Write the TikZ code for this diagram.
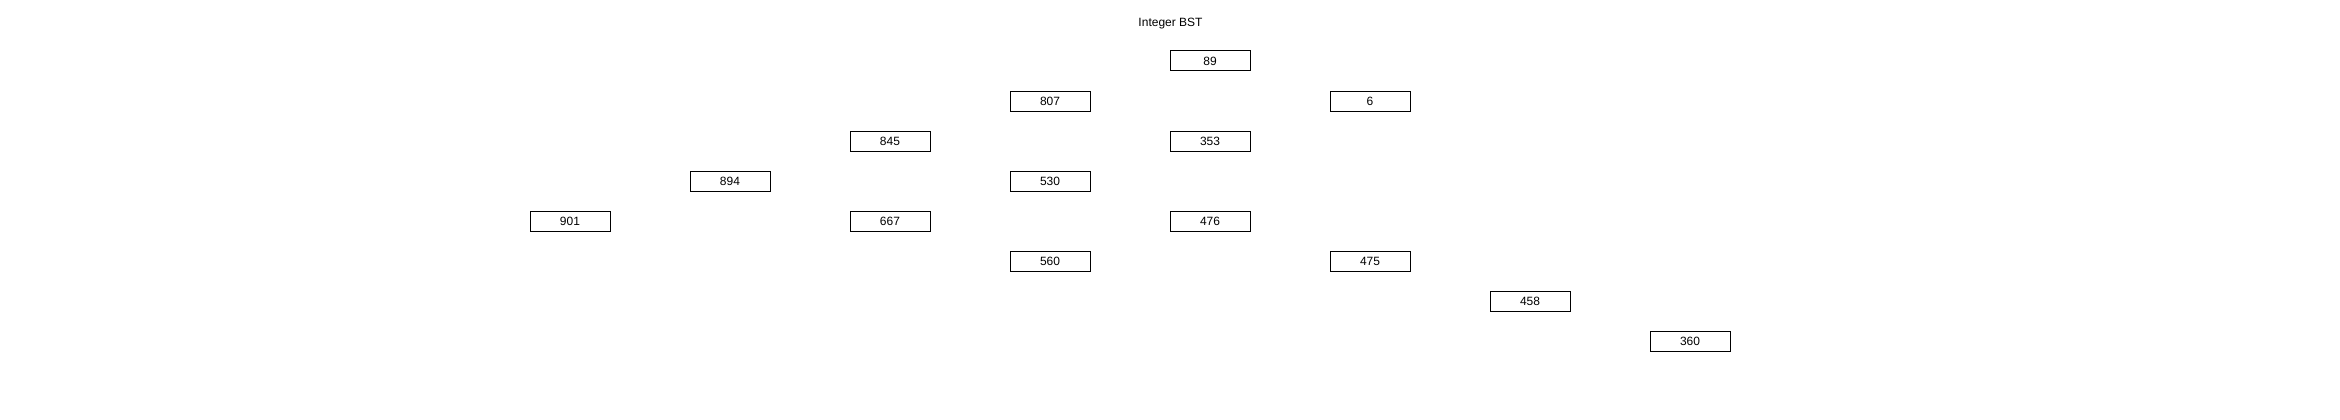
\documentclass[tikz,border=0pt]{standalone}
\usepackage{fontspec}
\setmainfont{Liberation Sans}
\begin{document}
\begin{tikzpicture}[x=1pt,y=-1pt,
  bstnode/.style={draw=black,line width=1pt,minimum width=80pt,minimum height=20pt,inner sep=0pt,font=\fontsize{12}{14}\selectfont},
  titletext/.style={font=\fontsize{12}{14}\selectfont,inner sep=0pt}]
\useasboundingbox (0,0) rectangle (2340,420);
\node[titletext,anchor=base] (title) at (1170.5,26.5) {Integer BST};
\node[bstnode] (n89) at (1210,61) {89};
\node[bstnode] (n807) at (1050,101) {807};
\node[bstnode] (n6) at (1370,101) {6};
\node[bstnode] (n845) at (890,141) {845};
\node[bstnode] (n353) at (1210,141) {353};
\node[bstnode] (n894) at (730,181) {894};
\node[bstnode] (n530) at (1050,181) {530};
\node[bstnode] (n901) at (570,221) {901};
\node[bstnode] (n667) at (890,221) {667};
\node[bstnode] (n476) at (1210,221) {476};
\node[bstnode] (n560) at (1050,261) {560};
\node[bstnode] (n475) at (1370,261) {475};
\node[bstnode] (n458) at (1530,301) {458};
\node[bstnode] (n360) at (1690,341) {360};
\end{tikzpicture}
\end{document}
